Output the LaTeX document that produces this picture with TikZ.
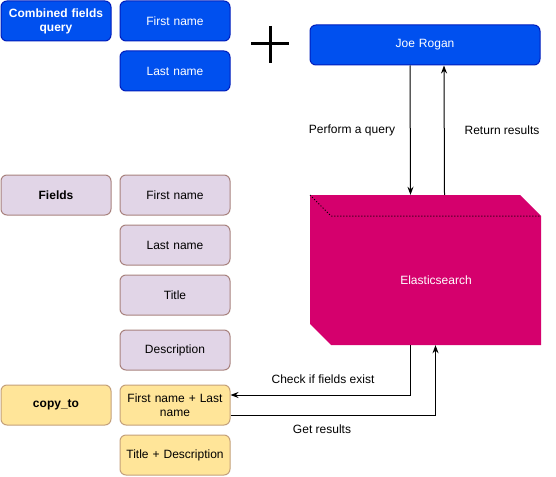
\documentclass[tikz,border=0pt]{standalone}
\usepackage{fontspec}
\setmainfont{Liberation Sans}
\usetikzlibrary{arrows.meta}

\definecolor{qblue}{HTML}{0050EF}
\definecolor{qbluedraw}{HTML}{001DBC}
\definecolor{flilac}{HTML}{E1D5E7}
\definecolor{flilacdraw}{HTML}{A8827E}
\definecolor{cyellow}{HTML}{FFE599}
\definecolor{cyellowdraw}{HTML}{C4A07A}
\definecolor{esmagenta}{HTML}{D5006D}

\tikzset{
  box/.style={draw, line width=1pt, rounded corners=6pt, minimum width=110pt,
    minimum height=40pt, text width=106pt, align=center, inner sep=0pt,
    font=\fontsize{12}{14}\selectfont},
  querybox/.style={box, fill=qblue, draw=qbluedraw, text=white},
  fieldbox/.style={box, fill=flilac, draw=flilacdraw},
  copybox/.style={box, fill=cyellow, draw=cyellowdraw},
  lbl/.style={font=\fontsize{12}{14}\selectfont},
  flow/.style={line width=1pt, -{Stealth[length=8pt,width=6pt]}}
}

\begin{document}
\begin{tikzpicture}[x=1pt,y=-1pt]
  \useasboundingbox (0,0) rectangle (556,476);

  % query
  \node[querybox, font=\fontsize{12}{14}\selectfont\bfseries] (comb) at (56,21) {Combined fields\\ query};
  \node[querybox] (qfirst) at (175,21) {First name};
  \node[querybox] (qlast) at (175,71) {Last name};
  \draw[line width=3pt] (251,44) -- (289,44) (270,26) -- (270,63);
  \node[querybox, minimum width=230pt, text width=200pt] (joe) at (425,45) {Joe Rogan};

  % elasticsearch
  \fill[esmagenta] (310,195) -- (520,195) -- (541,216) -- (541,345)
    -- (331,345) -- (310,324) -- cycle;
  \draw[line width=1pt, dash pattern=on 1pt off 2pt] (310,195) -- (331,216) -- (541,216);
  \node[minimum width=231pt, minimum height=150pt, inner sep=0pt] (es) at (425.5,270) {};
  \node[lbl, text=white] (estext) at (436,280) {Elasticsearch};

  % fields
  \node[fieldbox, font=\fontsize{12}{14}\selectfont\bfseries] (fields) at (56,195) {Fields};
  \node[fieldbox] (ffirst) at (175,195) {First name};
  \node[fieldbox] (flast) at (175,245) {Last name};
  \node[fieldbox] (ftitle) at (175,295) {Title};
  \node[fieldbox] (fdesc) at (175,350) {Description};

  % copy_to
  \node[copybox, font=\fontsize{12}{14}\selectfont\bfseries] (copyto) at (56,405) {copy\_to};
  \node[copybox] (cname) at (175,405) {First name + Last\\ name};
  \node[copybox] (cdesc) at (175,455) {Title + Description};

  \begin{scope}[flow]
    \draw ([xshift=-15pt]joe.south) -- ([xshift=-15pt]es.north);
    \draw ([xshift=19pt]es.north) -- ([xshift=19pt]joe.south);
    \draw ([xshift=-15pt]es.south) |- ([yshift=10pt]cname.east);
    \draw ([yshift=-10pt]cname.east) -| ([xshift=10pt]es.south);
  \end{scope}

  \node[lbl] (perform) at (352,130) {Perform a query};
  \node[lbl] (return) at (502,130) {Return results};
  \node[lbl] (check) at (323,379) {Check if fields exist};
  \node[lbl] (get) at (322,429) {Get results};
\end{tikzpicture}
\end{document}
